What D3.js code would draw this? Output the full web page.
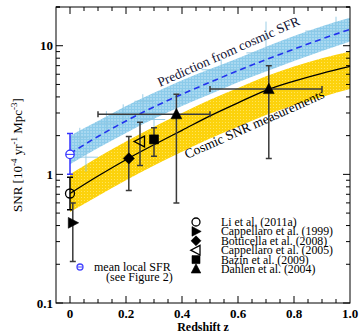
<!DOCTYPE html>
<meta charset="utf-8">
<style>
  body { margin: 0; background: #fff; }
  svg { display: block; }
</style>
<svg width="362" height="336" font-family="'Liberation Serif', 'Times New Roman', serif"></svg>
<script src="https://cdn.jsdelivr.net/npm/d3@7"></script>
<script>

// redshift grid for the two bands
var zGrid = [0, 0.1, 0.2, 0.3, 0.4, 0.5, 0.6, 0.7, 0.8, 0.9, 1.0];

// prediction from cosmic SFR (blue band + dashed line)
var sfrMid = [1.45, 1.97, 2.6, 3.35, 4.2, 5.2, 6.4, 7.8, 9.4, 11.3, 13.4];
var sfrLo  = [1.2, 1.6, 2.1, 2.7, 3.4, 4.2, 5.2, 6.3, 7.6, 9.1, 10.8];
var sfrHi  = [2.0, 2.6, 3.4, 4.3, 5.4, 6.6, 8.0, 9.8, 11.9, 14.2, 16.5];

// cosmic SNR measurements fit (yellow band + solid line)
var snrMid = [0.71, 0.97, 1.3, 1.7, 2.2, 2.85, 3.6, 4.5, 5.3, 6.1, 6.9];
var snrLo  = [0.51, 0.68, 0.9, 1.17, 1.5, 1.9, 2.35, 2.9, 3.45, 4.0, 4.6];
var snrHi  = [1.0, 1.36, 1.8, 2.35, 3.0, 3.8, 4.7, 5.8, 6.9, 8.0, 9.0];

// light blue SFR-based crosses: z, value, zlo, zhi, vlo, vhi
var sfrPoints = [
  [0.035, 1.94, 0.0, 0.065, 1.55, 2.3],
  [0.057, 1.36, 0.03, 0.10, 1.05, 1.62],
  [0.13, 2.5, 0.09, 0.17, 2.05, 3.1],
  [0.19, 2.9, 0.16, 0.22, 2.36, 3.5],
  [0.26, 3.7, 0.23, 0.30, 2.8, 4.2],
  [0.30, 2.67, 0.25, 0.34, 2.3, 3.1],
  [0.40, 4.0, 0.36, 0.45, 3.5, 4.6],
  [0.54, 6.5, 0.47, 0.64, 5.3, 7.8],
  [0.70, 8.8, 0.63, 0.80, 7.0, 15.4],
  [0.95, 13.0, 0.84, 0.99, 11.5, 16.8]
];

// SN rate measurements
var studies = ["Li et al. (2011a)", "Cappellaro et al. (1999)", "Botticella et al. (2008)",
               "Cappellaro et al. (2005)", "Bazin et al. (2009)", "Dahlen et al. (2004)"];
var symbols = ["circle", "triRight", "diamond", "triLeft", "square", "triUp"];
// study index, z, value, zlo, zhi, vlo, vhi
var measurements = [
  [0, 0.0, 0.71, null, null, 0.53, 0.95],
  [1, 0.01, 0.42, null, null, 0.21, 0.6],
  [2, 0.21, 1.33, null, null, 0.75, 1.97],
  [3, 0.25, 1.80, null, null, 1.17, 2.54],
  [4, 0.30, 1.87, null, null, 1.38, 2.3],
  [5, 0.38, 2.93, 0.10, 0.50, 0.6, 4.2],
  [5, 0.71, 4.6, 0.50, 0.90, 1.33, 7.0]
];

// mean local SFR point
var localSfr = [0.0, 1.43, 1.0, 2.08];

var xTicks = [0, 0.2, 0.4, 0.6, 0.8, 1.0];
var xTickLabels = ["0", "0.2", "0.4", "0.6", "0.8", "1.0"];
var yTicks = [0.1, 1, 10];
var yTickLabels = ["0.1", "1", "10"];

var svg = d3.select("svg"),
    margin = {left: 56, top: 7, right: 12, bottom: 33},
    width = +svg.attr("width") - margin.left - margin.right,
    height = +svg.attr("height") - margin.top - margin.bottom,
    g = svg.append("g").attr("transform", "translate(" + margin.left + "," + margin.top + ")");

var x = d3.scaleLinear().domain([-0.05, 1.0]).range([0, width]);
var y = d3.scaleLog().domain([0.1, 20]).range([height, 0]);

// textures for the bands
var defs = svg.append("defs");
var pb = defs.append("pattern").attr("id", "blueHatch").attr("patternUnits", "userSpaceOnUse")
    .attr("width", 3).attr("height", 3);
pb.append("rect").attr("width", 3).attr("height", 3).attr("fill", "#a8d8f0");
pb.append("path").attr("d", "M0,0.5H3M0.5,0V3").attr("stroke", "#8ccbea").attr("stroke-width", 1);
var py = defs.append("pattern").attr("id", "yellowHatch").attr("patternUnits", "userSpaceOnUse")
    .attr("width", 3).attr("height", 3);
py.append("rect").attr("width", 3).attr("height", 3).attr("fill", "#fcd20c");
py.append("rect").attr("x", 1).attr("y", 1).attr("width", 1).attr("height", 1).attr("fill", "#ffe45a");

var band = d3.area()
    .x(function(d) { return x(d[0]); })
    .y0(function(d) { return y(d[1]); })
    .y1(function(d) { return y(d[2]); })
    .curve(d3.curveMonotoneX);
var line = d3.line()
    .x(function(d) { return x(d[0]); })
    .y(function(d) { return y(d[1]); })
    .curve(d3.curveMonotoneX);

g.append("path")
    .datum(zGrid.map(function(z, i) { return [z, snrLo[i], snrHi[i]]; }))
    .attr("fill", "url(#yellowHatch)")
    .attr("d", band);

g.append("path")
    .datum(zGrid.map(function(z, i) { return [z, sfrLo[i], sfrHi[i]]; }))
    .attr("fill", "url(#blueHatch)")
    .attr("d", band);

// light blue crosses
var cross = g.append("g")
    .attr("stroke", "#8cc6e2")
    .attr("stroke-width", 1)
    .attr("opacity", 0.85)
    .selectAll("g")
    .data(sfrPoints)
    .enter().append("g");
cross.append("line")
    .attr("x1", function(d) { return x(d[2]); })
    .attr("x2", function(d) { return x(d[3]); })
    .attr("y1", function(d) { return y(d[1]); })
    .attr("y2", function(d) { return y(d[1]); });
cross.append("line")
    .attr("x1", function(d) { return x(d[0]); })
    .attr("x2", function(d) { return x(d[0]); })
    .attr("y1", function(d) { return y(d[4]); })
    .attr("y2", function(d) { return y(d[5]); });

g.append("path")
    .datum(zGrid.map(function(z, i) { return [z, sfrMid[i]]; }))
    .attr("fill", "none")
    .attr("stroke", "#2233ee")
    .attr("stroke-width", 1.6)
    .attr("stroke-dasharray", "6,4")
    .attr("d", line);

g.append("path")
    .datum(zGrid.map(function(z, i) { return [z, snrMid[i]]; }))
    .attr("fill", "none")
    .attr("stroke", "#000")
    .attr("stroke-width", 1.3)
    .attr("d", line);

// band labels
g.append("text")
    .attr("transform", "translate(" + (160 - margin.left) + "," + (87 - margin.top) + ")rotate(-24)")
    .attr("font-size", 13.5)
    .attr("fill", "#111133")
    .text("Prediction from cosmic SFR");
g.append("text")
    .attr("transform", "translate(" + (187 - margin.left) + "," + (159 - margin.top) + ")rotate(-24)")
    .attr("font-size", 13.5)
    .attr("fill", "#000")
    .text("Cosmic SNR measurements");

// marker shapes
function symbolPath(name, s) {
  if (name === "circle") return null;
  if (name === "triRight") return "M" + (-s * 0.5) + "," + (-s * 0.6) + "L" + (s * 0.65) + ",0L" + (-s * 0.5) + "," + (s * 0.6) + "Z";
  if (name === "triLeft") return "M" + (s * 0.5) + "," + (-s * 0.6) + "L" + (-s * 0.65) + ",0L" + (s * 0.5) + "," + (s * 0.6) + "Z";
  if (name === "triUp") return "M0," + (-s * 0.65) + "L" + (s * 0.6) + "," + (s * 0.5) + "L" + (-s * 0.6) + "," + (s * 0.5) + "Z";
  if (name === "diamond") return "M0," + (-s * 0.62) + "L" + (s * 0.62) + ",0L0," + (s * 0.62) + "L" + (-s * 0.62) + ",0Z";
  if (name === "square") return "M" + (-s / 2) + "," + (-s / 2) + "h" + s + "v" + s + "h" + (-s) + "Z";
}
function drawMarker(sel, name, s) {
  var open = name === "circle" || name === "triLeft";
  if (name === "circle") {
    sel.append("circle").attr("r", s * 0.5)
      .attr("fill", "none").attr("stroke", "#000").attr("stroke-width", 1.3);
  } else {
    sel.append("path").attr("d", symbolPath(name, s))
      .attr("fill", open ? "none" : "#000")
      .attr("stroke", "#000").attr("stroke-width", open ? 1.3 : 0.6);
  }
}

// error bars
var capW = 3;
var eb = g.append("g").selectAll("g")
    .data(measurements)
    .enter().append("g")
    .attr("stroke", function(d) { return d[0] === 0 ? "#000" : "#3a3a3a"; })
    .attr("stroke-width", 1.5);
eb.append("path")
    .attr("fill", "none")
    .attr("d", function(d) {
      var cx = x(d[1]), y0 = y(d[5]), y1 = y(d[6]);
      var p = "M" + cx + "," + y0 + "V" + y1 +
              "M" + (cx - capW) + "," + y0 + "h" + (2 * capW) +
              "M" + (cx - capW) + "," + y1 + "h" + (2 * capW);
      if (d[3] !== null) {
        var cy = y(d[2]), x0 = x(d[3]), x1 = x(d[4]);
        p += "M" + x0 + "," + cy + "H" + x1 +
             "M" + x0 + "," + (cy - capW) + "v" + (2 * capW) +
             "M" + x1 + "," + (cy - capW) + "v" + (2 * capW);
      }
      return p;
    });

g.append("g").selectAll("g")
    .data(measurements)
    .enter().append("g")
    .attr("transform", function(d) { return "translate(" + x(d[1]) + "," + y(d[2]) + ")"; })
    .each(function(d) { drawMarker(d3.select(this), symbols[d[0]], 9); });

// mean local SFR point
var ls = g.append("g").attr("stroke", "#3333ff").attr("stroke-width", 1.5).attr("fill", "none");
ls.append("path").attr("d",
    "M" + x(localSfr[0]) + "," + y(localSfr[2]) + "V" + y(localSfr[3]) +
    "M" + (x(localSfr[0]) - capW) + "," + y(localSfr[2]) + "h" + (2 * capW) +
    "M" + (x(localSfr[0]) - capW) + "," + y(localSfr[3]) + "h" + (2 * capW));
ls.append("circle").attr("cx", x(localSfr[0])).attr("cy", y(localSfr[1])).attr("r", 4.2)
    .attr("fill", "#fff").attr("stroke-width", 1.3);
ls.append("path").attr("d", "M" + (x(localSfr[0]) - 4) + "," + y(localSfr[1]) + "h8").attr("stroke-width", 1);

// legend
var legend = g.append("g")
    .attr("transform", "translate(" + (196 - margin.left) + "," + (222 - margin.top) + ")")
    .selectAll("g")
    .data(studies)
    .enter().append("g")
    .attr("transform", function(d, i) { return "translate(0," + (i * 9.4) + ")"; });
legend.each(function(d, i) { drawMarker(d3.select(this), symbols[i], 8); });
legend.append("text")
    .attr("x", 25)
    .attr("dy", "0.33em")
    .attr("font-size", 11.8)
    .text(function(d) { return d; });

var ll = g.append("g").attr("transform", "translate(" + (80 - margin.left) + "," + (267 - margin.top) + ")");
ll.append("circle").attr("r", 3).attr("fill", "none").attr("stroke", "#4444ff").attr("stroke-width", 1.3);
ll.append("path").attr("d", "M-3,0h6").attr("stroke", "#4444ff").attr("stroke-width", 1);
ll.append("text").attr("x", 14).attr("dy", "0.35em").attr("font-size", 12).text("mean local SFR");
ll.append("text").attr("x", 26).attr("y", 10).attr("dy", "0.35em").attr("font-size", 12).text("(see Figure 2)");

// axes: frame, inward ticks on all sides
var xMinor = d3.range(0, 21).map(function(i) { return -0.05 + i * 0.05; })
    .filter(function(v) { return v > -0.04 && v < 0.99; });
var yMinor = [];
[0.1, 1, 10].forEach(function(dec) {
  for (var k = 2; k <= 9; k++) if (dec * k <= 20) yMinor.push(dec * k);
});
yMinor.push(20);

var axes = g.append("g").attr("stroke", "#000").attr("stroke-width", 1);
axes.append("rect").attr("width", width).attr("height", height).attr("fill", "none");

xMinor.forEach(function(v) {
  var major = xTicks.some(function(t) { return Math.abs(t - v) < 1e-6; });
  var len = major ? 7 : 4;
  axes.append("line").attr("x1", x(v)).attr("x2", x(v)).attr("y1", height).attr("y2", height - len);
  axes.append("line").attr("x1", x(v)).attr("x2", x(v)).attr("y1", 0).attr("y2", len);
});
yTicks.concat(yMinor).forEach(function(v) {
  var major = yTicks.indexOf(v) >= 0;
  var len = major ? 7 : 4;
  axes.append("line").attr("x1", 0).attr("x2", len).attr("y1", y(v)).attr("y2", y(v));
  axes.append("line").attr("x1", width).attr("x2", width - len).attr("y1", y(v)).attr("y2", y(v));
});

g.append("g").selectAll("text")
    .data(xTicks)
    .enter().append("text")
    .attr("x", function(d) { return x(d); })
    .attr("y", height + 15)
    .attr("text-anchor", "middle")
    .attr("font-size", 13)
    .attr("font-weight", "bold")
    .text(function(d, i) { return xTickLabels[i]; });

g.append("g").selectAll("text")
    .data(yTicks)
    .enter().append("text")
    .attr("x", -3)
    .attr("y", function(d) { return y(d); })
    .attr("dy", "0.35em")
    .attr("text-anchor", "end")
    .attr("font-size", 13)
    .attr("font-weight", "bold")
    .text(function(d, i) { return yTickLabels[i]; });

svg.append("text")
    .attr("x", margin.left + x(0.475))
    .attr("y", 331)
    .attr("text-anchor", "middle")
    .attr("font-size", 12)
    .attr("font-weight", "bold")
    .text("Redshift z");

var yt = svg.append("text")
    .attr("transform", "translate(22," + (margin.top + height / 2) + ")rotate(-90)")
    .attr("text-anchor", "middle")
    .attr("font-size", 13);
yt.append("tspan").text("SNR [10");
yt.append("tspan").attr("baseline-shift", "super").attr("font-size", 9).text("-4");
yt.append("tspan").text(" yr");
yt.append("tspan").attr("baseline-shift", "super").attr("font-size", 9).text("-1");
yt.append("tspan").text(" Mpc");
yt.append("tspan").attr("baseline-shift", "super").attr("font-size", 9).text("-3");
yt.append("tspan").text("]");

</script>
